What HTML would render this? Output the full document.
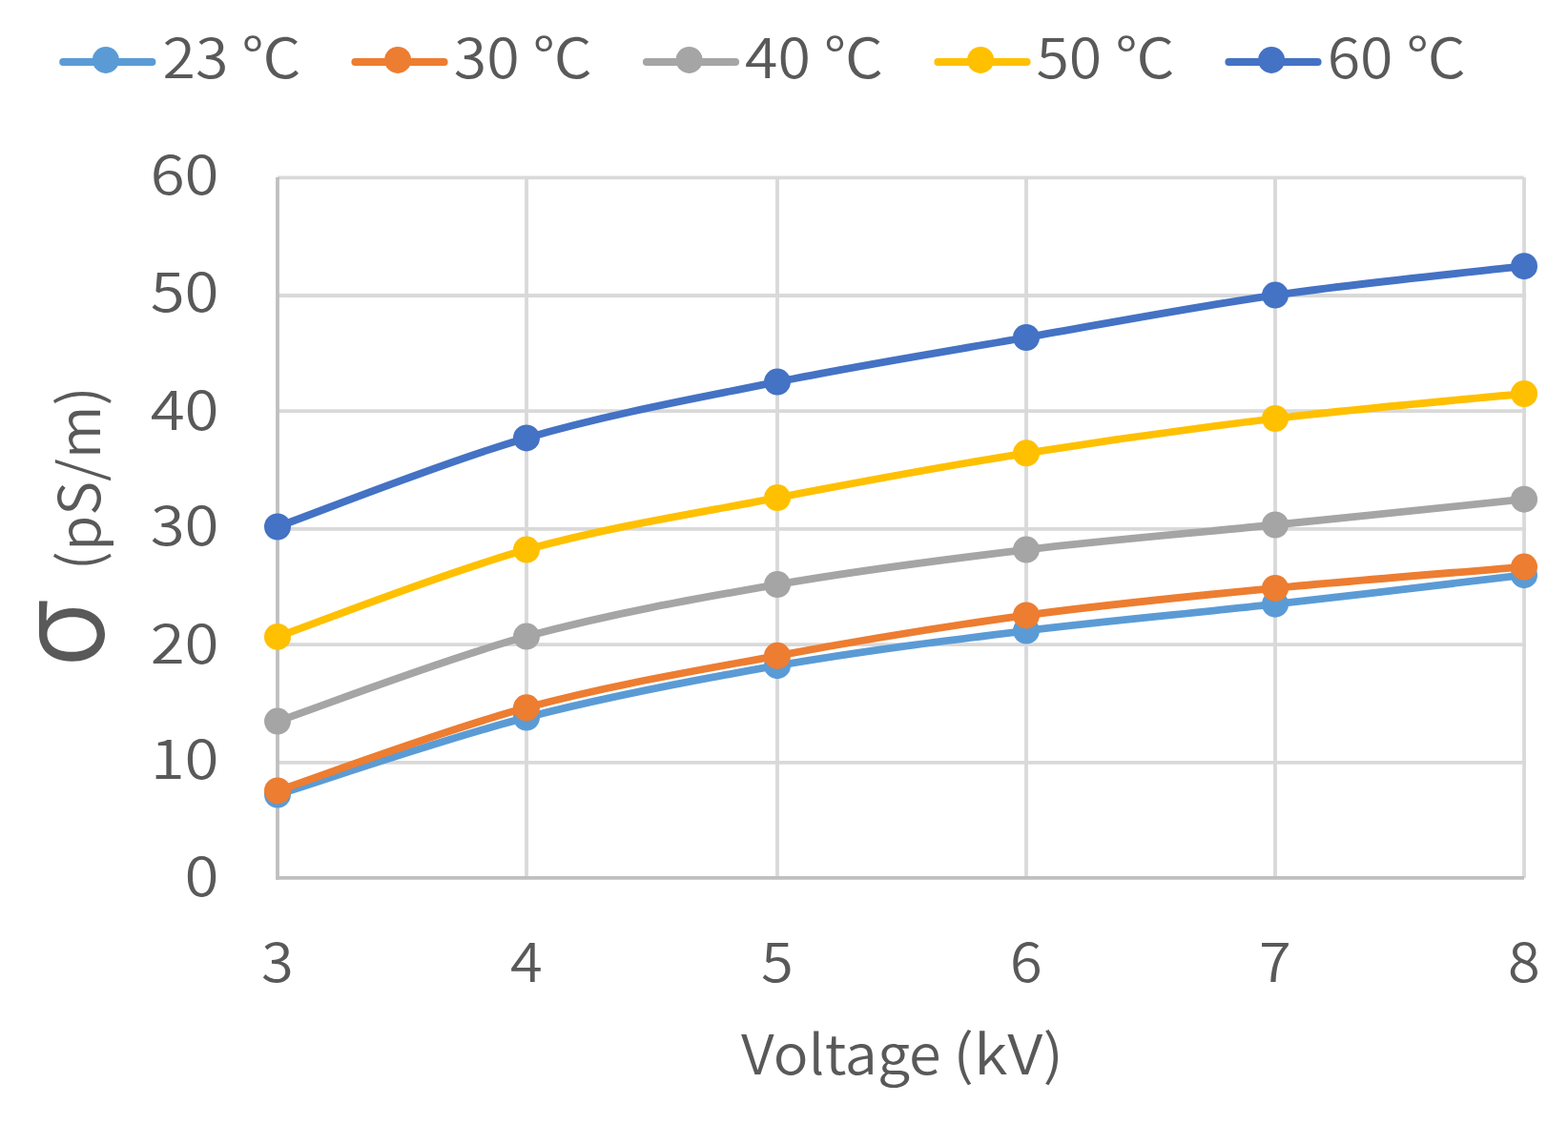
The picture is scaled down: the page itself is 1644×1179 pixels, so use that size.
<!DOCTYPE html><html><head><meta charset="utf-8"><title>Chart</title><style>html,body{margin:0;padding:0;background:#fff;overflow:hidden;}svg{display:block;}text{font-family:"Noto Sans CJK SC", "Liberation Sans", sans-serif;fill:#595959;font-weight:350;}</style></head><body>
<svg width="1644" height="1179" viewBox="0 0 1644 1179">
<rect width="1644" height="1179" fill="#fff"/>
<g stroke="#D9D9D9" stroke-width="3.8"><line x1="291" y1="186.3" x2="1597.7" y2="186.3"/><line x1="291" y1="310" x2="1600" y2="310"/><line x1="291" y1="431.1" x2="1600" y2="431.1"/><line x1="291" y1="554.8" x2="1600" y2="554.8"/><line x1="291" y1="676.1" x2="1600" y2="676.1"/><line x1="291" y1="799.8" x2="1600" y2="799.8"/><line x1="552" y1="186" x2="552" y2="921"/><line x1="815" y1="186" x2="815" y2="921"/><line x1="1076" y1="186" x2="1076" y2="921"/><line x1="1337" y1="186" x2="1337" y2="921"/><line x1="1598" y1="186" x2="1598" y2="921"/></g>
<g stroke="#BFBFBF" stroke-width="3.8"><line x1="291" y1="186" x2="291" y2="922.8"/><line x1="289.1" y1="920.9" x2="1598" y2="920.9"/></g>
<path d="M291.00,833.50 C334.50,820.02 464.67,775.15 552.00,752.60 C639.33,730.05 727.67,713.37 815.00,698.20 C902.33,683.03 989.00,672.35 1076.00,661.60 C1163.00,650.85 1250.00,643.43 1337.00,633.70 C1424.00,623.97 1554.50,608.28 1598.00,603.20" fill="none" stroke="#5B9BD5" stroke-width="7.8" stroke-linecap="round" stroke-linejoin="round"/>
<circle cx="291" cy="833.5" r="14" fill="#5B9BD5"/>
<circle cx="552" cy="752.6" r="14" fill="#5B9BD5"/>
<circle cx="815" cy="698.2" r="14" fill="#5B9BD5"/>
<circle cx="1076" cy="661.6" r="14" fill="#5B9BD5"/>
<circle cx="1337" cy="633.7" r="14" fill="#5B9BD5"/>
<circle cx="1598" cy="603.2" r="14" fill="#5B9BD5"/>
<path d="M291.00,829.40 C334.50,814.88 464.67,765.90 552.00,742.30 C639.33,718.70 727.67,703.95 815.00,687.80 C902.33,671.65 989.00,657.22 1076.00,645.40 C1163.00,633.58 1250.00,625.37 1337.00,616.90 C1424.00,608.43 1554.50,598.32 1598.00,594.60" fill="none" stroke="#ED7D31" stroke-width="7.8" stroke-linecap="round" stroke-linejoin="round"/>
<circle cx="291" cy="829.4" r="14" fill="#ED7D31"/>
<circle cx="552" cy="742.3" r="14" fill="#ED7D31"/>
<circle cx="815" cy="687.8" r="14" fill="#ED7D31"/>
<circle cx="1076" cy="645.4" r="14" fill="#ED7D31"/>
<circle cx="1337" cy="616.9" r="14" fill="#ED7D31"/>
<circle cx="1598" cy="594.6" r="14" fill="#ED7D31"/>
<path d="M291.00,756.60 C334.50,741.77 464.67,691.52 552.00,667.60 C639.33,643.68 727.67,628.27 815.00,613.10 C902.33,597.93 989.00,587.03 1076.00,576.60 C1163.00,566.17 1250.00,559.32 1337.00,550.50 C1424.00,541.68 1554.50,528.17 1598.00,523.70" fill="none" stroke="#A5A5A5" stroke-width="7.8" stroke-linecap="round" stroke-linejoin="round"/>
<circle cx="291" cy="756.6" r="14" fill="#A5A5A5"/>
<circle cx="552" cy="667.6" r="14" fill="#A5A5A5"/>
<circle cx="815" cy="613.1" r="14" fill="#A5A5A5"/>
<circle cx="1076" cy="576.6" r="14" fill="#A5A5A5"/>
<circle cx="1337" cy="550.5" r="14" fill="#A5A5A5"/>
<circle cx="1598" cy="523.7" r="14" fill="#A5A5A5"/>
<path d="M291.00,667.90 C334.50,652.68 464.67,600.90 552.00,576.60 C639.33,552.30 727.67,538.98 815.00,522.10 C902.33,505.22 989.00,489.15 1076.00,475.30 C1163.00,461.45 1250.00,449.38 1337.00,439.00 C1424.00,428.62 1554.50,417.33 1598.00,413.00" fill="none" stroke="#FFC000" stroke-width="7.8" stroke-linecap="round" stroke-linejoin="round"/>
<circle cx="291" cy="667.9" r="14" fill="#FFC000"/>
<circle cx="552" cy="576.6" r="14" fill="#FFC000"/>
<circle cx="815" cy="522.1" r="14" fill="#FFC000"/>
<circle cx="1076" cy="475.3" r="14" fill="#FFC000"/>
<circle cx="1337" cy="439.0" r="14" fill="#FFC000"/>
<circle cx="1598" cy="413.0" r="14" fill="#FFC000"/>
<path d="M291.00,552.50 C334.50,536.98 464.67,484.72 552.00,459.40 C639.33,434.08 727.67,418.17 815.00,400.60 C902.33,383.03 989.00,369.17 1076.00,354.00 C1163.00,338.83 1250.00,322.07 1337.00,309.60 C1424.00,297.13 1554.50,284.27 1598.00,279.20" fill="none" stroke="#4472C4" stroke-width="7.8" stroke-linecap="round" stroke-linejoin="round"/>
<circle cx="291" cy="552.5" r="14" fill="#4472C4"/>
<circle cx="552" cy="459.4" r="14" fill="#4472C4"/>
<circle cx="815" cy="400.6" r="14" fill="#4472C4"/>
<circle cx="1076" cy="354.0" r="14" fill="#4472C4"/>
<circle cx="1337" cy="309.6" r="14" fill="#4472C4"/>
<circle cx="1598" cy="279.2" r="14" fill="#4472C4"/>
<text transform="translate(229.60,204.20) scale(1.140,1)" font-size="57.5" text-anchor="end">60</text>
<text transform="translate(229.60,327.20) scale(1.140,1)" font-size="57.5" text-anchor="end">50</text>
<text transform="translate(229.60,450.70) scale(1.140,1)" font-size="57.5" text-anchor="end">40</text>
<text transform="translate(229.60,572.20) scale(1.140,1)" font-size="57.5" text-anchor="end">30</text>
<text transform="translate(229.60,695.70) scale(1.140,1)" font-size="57.5" text-anchor="end">20</text>
<text transform="translate(229.60,817.20) scale(1.140,1)" font-size="57.5" text-anchor="end">10</text>
<text transform="translate(229.60,940.40) scale(1.140,1)" font-size="57.5" text-anchor="end">0</text>
<text transform="translate(291.00,1029.80) scale(1.070,1)" font-size="57.5" text-anchor="middle">3</text>
<text transform="translate(552.00,1029.80) scale(1.070,1)" font-size="57.5" text-anchor="middle">4</text>
<text transform="translate(815.00,1029.80) scale(1.070,1)" font-size="57.5" text-anchor="middle">5</text>
<text transform="translate(1076.00,1029.80) scale(1.070,1)" font-size="57.5" text-anchor="middle">6</text>
<text transform="translate(1337.00,1029.80) scale(1.070,1)" font-size="57.5" text-anchor="middle">7</text>
<text transform="translate(1598.00,1029.80) scale(1.070,1)" font-size="57.5" text-anchor="middle">8</text>
<text transform="translate(777.10,1126.50) scale(1.063,1)" font-size="57.5">Voltage</text>
<text transform="translate(999.30,1126.50) scale(1.136,1)" font-size="57.5">(kV)</text>
<text transform="translate(107.50,664.50) rotate(-90) scale(0.950,1)" font-size="124" text-anchor="middle">σ</text>
<text transform="translate(105.20,501.80) rotate(-90) scale(1.010,1)" font-size="60" text-anchor="middle">(pS/m)</text>
<line x1="66.1" y1="65" x2="159.5" y2="65" stroke="#5B9BD5" stroke-width="7.8" stroke-linecap="round"/>
<circle cx="110.9" cy="62.9" r="14" fill="#5B9BD5"/>
<text transform="translate(170.50,82.40) scale(1.090,1)" font-size="57.5">23 ℃</text>
<line x1="372.3" y1="65" x2="465.7" y2="65" stroke="#ED7D31" stroke-width="7.8" stroke-linecap="round"/>
<circle cx="417.1" cy="62.9" r="14" fill="#ED7D31"/>
<text transform="translate(475.80,82.40) scale(1.090,1)" font-size="57.5">30 ℃</text>
<line x1="677.8" y1="65" x2="771.2" y2="65" stroke="#A5A5A5" stroke-width="7.8" stroke-linecap="round"/>
<circle cx="722.6" cy="62.9" r="14" fill="#A5A5A5"/>
<text transform="translate(781.10,82.40) scale(1.090,1)" font-size="57.5">40 ℃</text>
<line x1="983.3" y1="65" x2="1076.7" y2="65" stroke="#FFC000" stroke-width="7.8" stroke-linecap="round"/>
<circle cx="1028.1" cy="62.9" r="14" fill="#FFC000"/>
<text transform="translate(1086.40,82.40) scale(1.090,1)" font-size="57.5">50 ℃</text>
<line x1="1288.3" y1="65" x2="1381.7" y2="65" stroke="#4472C4" stroke-width="7.8" stroke-linecap="round"/>
<circle cx="1333.1" cy="62.9" r="14" fill="#4472C4"/>
<text transform="translate(1391.70,82.40) scale(1.090,1)" font-size="57.5">60 ℃</text>
</svg></body></html>
